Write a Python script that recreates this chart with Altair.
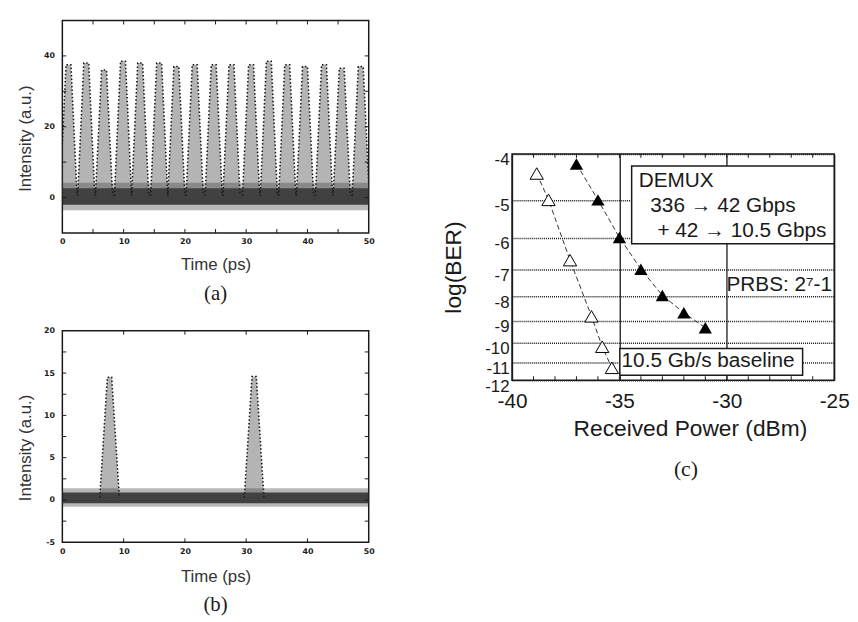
import altair as alt
import pandas as pd

SANS = "Liberation Sans"
SERIF = "Liberation Serif"
INK = "#1a1a1a"

# ================= Panel (a): pulse train =================
a_pulse_time = [1.0, 3.9, 6.8, 9.9, 12.7, 15.8, 18.6, 21.6, 24.7, 27.6, 30.8, 33.7, 36.7, 39.6, 42.7, 45.6, 48.7]
a_pulse_peak = [37.5, 38.0, 36.0, 38.5, 38.0, 38.0, 37.0, 37.5, 37.5, 37.5, 37.5, 38.5, 37.5, 37.0, 37.5, 36.5, 37.0]
a_noise_core = [-2.0, 2.6]
a_noise_halo = [-3.6, 4.2]
a_x_labels = [0, 10, 20, 30, 40, 50]
a_y_labels = [0, 20, 40]
a_x_minor = [5, 10, 15, 20, 25, 30, 35, 40, 45]
a_y_minor = [0, 10, 20, 30, 40]

# ================= Panel (b): demultiplexed pulses =================
b_pulse_time = [7.7, 31.3]
b_pulse_peak = [14.5, 14.6]
b_noise_core = [-0.4, 0.9]
b_noise_halo = [-0.8, 1.4]
b_x_labels = [0, 10, 20, 30, 40, 50]
b_y_labels = [-5, 0, 5, 10, 15, 20]
b_x_minor = [10, 20, 30, 40]
b_y_minor = [-2.5, 0, 2.5, 5, 7.5, 10, 12.5, 15, 17.5]

# ================= Panel (c): BER curves =================
c_power_demux = [-37.0, -36.0, -35.0, -34.0, -33.0, -32.0, -31.0]
c_logber_demux = [-4.2, -5.0, -6.0, -7.0, -7.95, -8.65, -9.3]
c_power_base = [-38.85, -38.3, -37.3, -36.3, -35.8, -35.35]
c_logber_base = [-4.4, -5.0, -6.7, -8.8, -10.2, -11.3]
c_x_labels = [-40, -35, -30, -25]
c_y_labels = [-4, -5, -6, -7, -8, -9, -10, -11, -12]
c_x_minor = list(range(-39, -25))


def pulse_frame(times, peaks, floor, half_base, half_top):
    rows = []
    for i, (t, p) in enumerate(zip(times, peaks)):
        for k, (dx, v) in enumerate([(-half_base, floor), (-half_top, p), (half_top, p), (half_base, floor)]):
            rows.append({"pulse": i, "k": k, "t": t + dx, "v": v, "v2": floor})
    return pd.DataFrame(rows)


def scope_panel(times, peaks, floor, hb, ht, core, halo, xdom, ydom, xlabels, ylabels,
                xminor, yminor, w, h, tag, title_y, tag_offset, xtitle_pad):
    xax = alt.Axis(values=xlabels, title="Time (ps)", ticks=False, grid=False, domain=False,
                   labelFlush=False, labelExpr="'' + datum.value", labelFont="DejaVu Sans",
                   labelFontWeight="bold", labelFontSize=8, labelColor=INK, labelPadding=5,
                   titleFont=SANS, titleFontSize=17, titleFontWeight="normal",
                   titleColor="#333", titlePadding=xtitle_pad)
    yax = alt.Axis(values=ylabels, title="Intensity (a.u.)", ticks=False, grid=False, domain=False,
                   labelFlush=False, labelExpr="'' + datum.value", labelFont="DejaVu Sans",
                   labelFontWeight="bold", labelFontSize=8, labelColor=INK, labelPadding=8,
                   minExtent=18, maxExtent=18,
                   titleFont=SANS, titleFontSize=17, titleFontWeight="normal",
                   titleColor="#333", titlePadding=10, titleY=title_y)
    X = alt.X("t:Q", scale=alt.Scale(domain=xdom, nice=False, zero=False), axis=xax)
    Y = alt.Y("v:Q", scale=alt.Scale(domain=ydom, nice=False, zero=False), axis=yax)

    band = pd.DataFrame({"t": [xdom[0]], "t2": [xdom[1]], "v": [halo[0]], "v2": [halo[1]]})
    band_core = pd.DataFrame({"t": [xdom[0]], "t2": [xdom[1]], "v": [core[0]], "v2": [core[1]]})
    pulses = pulse_frame(times, peaks, floor, hb, ht)

    halo_l = alt.Chart(band).mark_rect(color="#333", opacity=0.35).encode(
        x=X, x2="t2:Q", y=Y, y2="v2:Q")
    core_l = alt.Chart(band_core).mark_rect(color="#222", opacity=0.8).encode(
        x=X, x2="t2:Q", y=Y, y2="v2:Q")
    area_l = alt.Chart(pulses).mark_area(color="#444", opacity=0.4, clip=True).encode(
        x=X, y=Y, y2="v2:Q", detail="pulse:N")
    edge_l = alt.Chart(pulses).mark_line(color=INK, strokeWidth=1.6, strokeDash=[1.5, 2.2], clip=True).encode(
        x=X, y=Y, detail="pulse:N", order="k:Q")

    xm = pd.DataFrame({"t": xminor})
    ym = pd.DataFrame({"v": yminor})
    tb = alt.Chart(xm).mark_rule(color=INK, strokeWidth=1).encode(x=X, y=alt.value(h), y2=alt.value(h - 4))
    tt = alt.Chart(xm).mark_rule(color=INK, strokeWidth=1).encode(x=X, y=alt.value(0), y2=alt.value(4))
    tl = alt.Chart(ym).mark_rule(color=INK, strokeWidth=1).encode(y=Y, x=alt.value(0), x2=alt.value(4))
    tr = alt.Chart(ym).mark_rule(color=INK, strokeWidth=1).encode(y=Y, x=alt.value(w), x2=alt.value(w - 4))

    return alt.layer(halo_l, core_l, area_l, edge_l, tb, tt, tl, tr).properties(
        width=w, height=h,
        title=alt.TitleParams(tag, orient="bottom", font=SERIF, fontSize=21, fontWeight="normal",
                              color=INK, offset=tag_offset, anchor="middle"),
    )


A = scope_panel(a_pulse_time, a_pulse_peak, 0.5, 1.4, 0.4, a_noise_core, a_noise_halo,
                [0, 50], [-10, 50], a_x_labels, a_y_labels, a_x_minor, a_y_minor,
                310, 215, "(a)", 119, 11, 11)
B = scope_panel(b_pulse_time, b_pulse_peak, 0.3, 1.6, 0.35, b_noise_core, b_noise_halo,
                [0, 50], [-5, 20], b_x_labels, b_y_labels, b_x_minor, b_y_minor,
                310, 214, "(b)", 118, 10, 14)

# ---------------- Panel (c) ----------------
CW, CH = 326, 229
Xc = alt.X("p:Q", scale=alt.Scale(domain=[-40, -25], nice=False, zero=False),
           axis=alt.Axis(values=c_x_labels, labelExpr="'' + datum.value", title="Received Power (dBm)",
                         grid=True, gridColor=INK, gridWidth=1.3, gridOpacity=1, ticks=False, domain=False,
                         labelFlush=False, labelOverlap=False,
                         labelFont=SANS, labelFontSize=21, labelColor=INK, labelPadding=11,
                         titleFont=SANS, titleFontSize=23, titleFontWeight="normal", titleColor=INK,
                         titlePadding=6, titleX=180))
Yc = alt.Y("n:Q", scale=alt.Scale(type="log", domain=[4, 12], reverse=True, nice=False),
           axis=alt.Axis(values=[-v for v in c_y_labels], labelExpr="'-' + datum.value",
                         grid=True, gridColor=INK, gridWidth=1.5, gridDash=[1, 1], gridOpacity=1,
                         ticks=False, domain=False, labelFont=SANS, labelFontSize=17,
                         labelColor=INK, labelPadding=3, labelBaseline="middle", labelOffset=6,
                         labelFlush=False, labelOverlap=False,
                         minExtent=32, maxExtent=32,
                         title="log(BER)", titleFont=SANS, titleFontSize=23, titleFontWeight="normal",
                         titleColor=INK, titlePadding=15))

ber = pd.DataFrame({
    "p": c_power_demux + c_power_base,
    "n": [-v for v in c_logber_demux] + [-v for v in c_logber_base],
    "series": ["demux"] * len(c_power_demux) + ["baseline"] * len(c_power_base),
})

boxes = pd.DataFrame({
    "p": [-34.43, -34.98], "p2": [-25.0, -26.47],
    "n": [4.24, 10.29], "n2": [6.19, 11.71],
})
prbs_bg = pd.DataFrame({"p": [-29.95], "p2": [-25.05], "n": [7.12], "n2": [7.92]})
notes = pd.DataFrame({
    "p": [-34.1, -33.56, -33.23, -34.9],
    "n": [4.57, 5.16, 5.83, 10.95],
    "txt": ["DEMUX", "336 \u2192 42 Gbps", "+ 42 \u2192 10.5 Gbps", "10.5 Gb/s baseline"],
})
prbs = pd.DataFrame({"p": [-25.1], "n": [7.55], "txt": ["PRBS: 2\u2077-1"]})

bg_l = alt.Chart(prbs_bg).mark_rect(color="white").encode(x=Xc, x2="p2:Q", y=Yc, y2="n2:Q")
box_l = alt.Chart(boxes).mark_rect(fill="white", stroke=INK, strokeWidth=1.5).encode(
    x=Xc, x2="p2:Q", y=Yc, y2="n2:Q")
line_l = alt.Chart(ber).mark_line(color="#333", strokeWidth=1, strokeDash=[5, 3]).encode(
    x=Xc, y=Yc, detail="series:N")
fill_l = alt.Chart(ber).transform_filter("datum.series == 'demux'").mark_point(
    shape="triangle-up", filled=True, color="black", size=180, opacity=1).encode(x=Xc, y=Yc)
open_l = alt.Chart(ber).transform_filter("datum.series == 'baseline'").mark_point(
    shape="triangle-up", fill="white", stroke="black", strokeWidth=1, size=180, opacity=1).encode(x=Xc, y=Yc)
note_l = alt.Chart(notes).mark_text(font=SANS, fontSize=21, color=INK, align="left", baseline="middle").encode(
    x=Xc, y=Yc, text="txt:N")
prbs_l = alt.Chart(prbs).mark_text(font=SANS, fontSize=21, color=INK, align="right", baseline="middle").encode(
    x=Xc, y=Yc, text="txt:N")
cm = pd.DataFrame({"p": c_x_minor})
cb = alt.Chart(cm).mark_rule(color=INK, strokeWidth=1).encode(x=Xc, y=alt.value(CH), y2=alt.value(CH - 4))
ct = alt.Chart(cm).mark_rule(color=INK, strokeWidth=1).encode(x=Xc, y=alt.value(0), y2=alt.value(4))

C = alt.layer(bg_l, box_l, line_l, fill_l, open_l, note_l, prbs_l, cb, ct).properties(
    width=CW, height=CH,
    title=alt.TitleParams("(c)", orient="bottom", font=SERIF, fontSize=22, fontWeight="normal",
                          color=INK, offset=19, anchor="middle", dx=13),
)

spacer = alt.Chart(pd.DataFrame({"p": [0]})).mark_point(opacity=0).properties(
    width=300, height=131, view=alt.ViewBackground(stroke=None))

left = alt.vconcat(A, B, spacing=21)
right = alt.vconcat(spacer, C, spacing=0)
chart = alt.hconcat(left, right, spacing=67).properties(
    padding={"left": 8, "top": 7, "right": 0, "bottom": 0}
).configure_view(stroke=INK, strokeWidth=1.5)

chart.save("out.html", embed_options={"renderer": "svg", "actions": False})
